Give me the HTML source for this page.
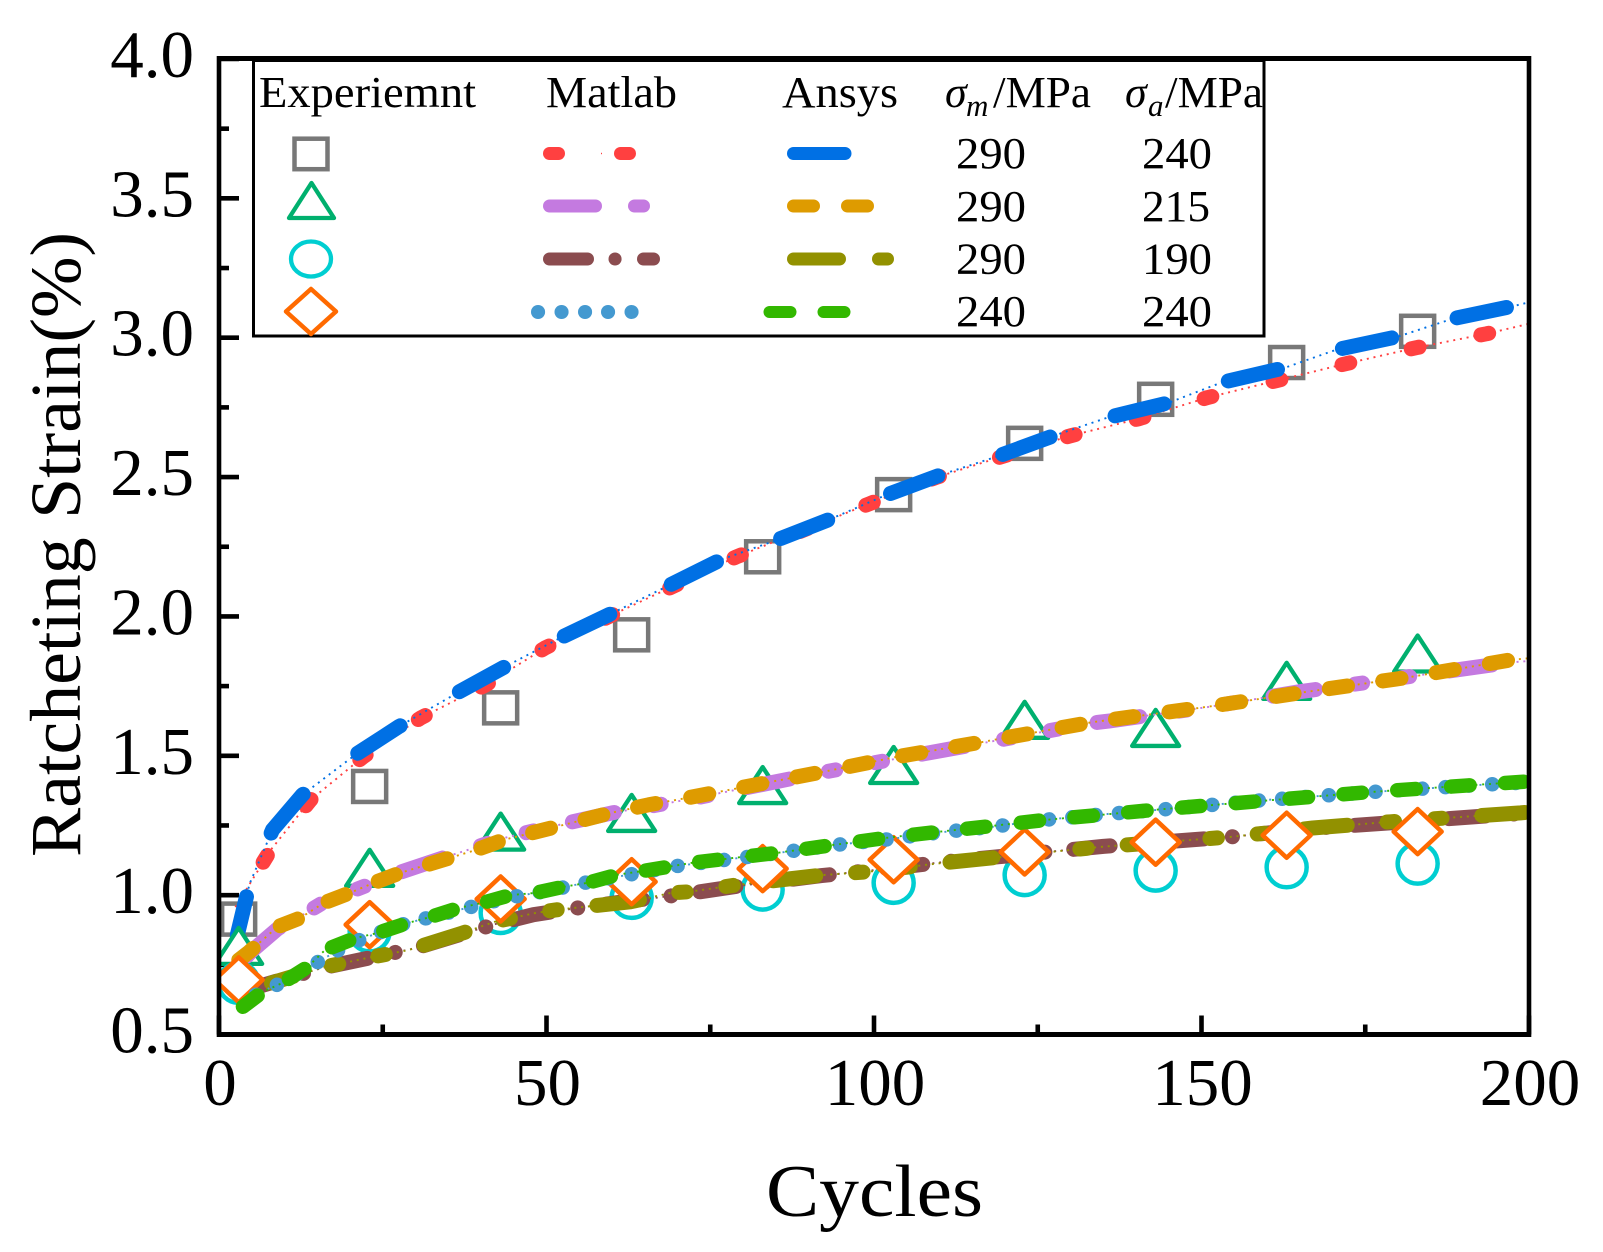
<!DOCTYPE html>
<html>
<head>
<meta charset="utf-8">
<title>Ratcheting Strain vs Cycles</title>
<style>
html,body{margin:0;padding:0;background:#fff;}
svg{display:block;}
text{font-family:"Liberation Serif",serif;fill:#000;}
</style>
</head>
<body>
<svg id="chart" xmlns="http://www.w3.org/2000/svg" width="1603" height="1252" viewBox="0 0 1603 1252">
  <defs>
    <clipPath id="plot-clip"><rect x="221" y="61" width="1306" height="971"/></clipPath>
  </defs>
  <rect x="0" y="0" width="1603" height="1252" fill="#fff"/>
  <g id="ticks"></g>
  <g id="ticklabels"></g>
  <g id="marks" clip-path="url(#plot-clip)"></g>
  <g id="frame">
    <line x1="219" y1="56" x2="219" y2="1037" stroke="#000" stroke-width="4.6"/>
    <line x1="1529" y1="56" x2="1529" y2="1037" stroke="#000" stroke-width="4.6"/>
    <line x1="217" y1="58.5" x2="1531" y2="58.5" stroke="#000" stroke-width="5"/>
    <line x1="217" y1="1034.5" x2="1531" y2="1034.5" stroke="#000" stroke-width="5"/>
  </g>
  <text transform="translate(80,857) rotate(-90)" font-size="72" textLength="625" lengthAdjust="spacingAndGlyphs">Ratcheting Strain(%)</text>
  <text x="766" y="1216" font-size="74" textLength="217" lengthAdjust="spacingAndGlyphs">Cycles</text>

  <g>
    <rect x="253.5" y="60.5" width="1010.5" height="275.5" fill="#fff" stroke="#000" stroke-width="3"/>
    <line x1="217" y1="58.5" x2="1531" y2="58.5" stroke="#000" stroke-width="5"/>
    <text x="259" y="107" font-size="44" textLength="217" lengthAdjust="spacingAndGlyphs">Experiemnt</text>
    <text x="546" y="107" font-size="44" textLength="131" lengthAdjust="spacingAndGlyphs">Matlab</text>
    <text x="782" y="107" font-size="44" textLength="116" lengthAdjust="spacingAndGlyphs">Ansys</text>
    <text x="945" y="107" font-size="44" font-style="italic">σ</text>
    <text x="966" y="116" font-size="31" font-style="italic">m</text>
    <text x="993" y="107" font-size="44" textLength="98" lengthAdjust="spacingAndGlyphs">/MPa</text>
    <text x="1125" y="107" font-size="44" font-style="italic">σ</text>
    <text x="1148" y="116" font-size="31" font-style="italic">a</text>
    <text x="1165" y="107" font-size="44" textLength="98" lengthAdjust="spacingAndGlyphs">/MPa</text>

    <rect x="294.5" y="138.7" width="33" height="30.5" fill="none" stroke="#787878" stroke-width="4.5"/>
    <polygon points="311.5,183 289,218 334,218" fill="none" stroke="#00b06e" stroke-width="4.3" stroke-linejoin="round"/>
    <ellipse cx="311" cy="259" rx="20" ry="17.5" fill="none" stroke="#00ced1" stroke-width="4.3"/>
    <polygon points="311,289 336,311.5 311,334 286,311.5" fill="none" stroke="#ff6a00" stroke-width="4.5" stroke-linejoin="round"/>

    <g stroke-linecap="round" stroke-width="13" fill="none">
      <g stroke="#ff4040">
        <line x1="549.5" y1="153.5" x2="558.5" y2="153.5"/>
        <line x1="620.5" y1="153.5" x2="629.5" y2="153.5"/>
        <rect x="601" y="152.8" width="1" height="1.4" stroke="none" fill="#ff4040"/>
      </g>
      <line x1="793.5" y1="153.5" x2="845" y2="153.5" stroke="#0070e4"/>
      <g stroke="#c47ae0">
        <line x1="549.5" y1="206" x2="595.5" y2="206"/>
        <line x1="634.5" y1="206" x2="643.5" y2="206"/>
      </g>
      <g stroke="#de9b00">
        <line x1="793.5" y1="206" x2="813.5" y2="206"/>
        <line x1="847.5" y1="206" x2="867.5" y2="206"/>
      </g>
      <g stroke="#8b4c4f">
        <line x1="549.5" y1="259" x2="587.5" y2="259"/>
        <line x1="615" y1="259" x2="615.1" y2="259"/>
        <line x1="643.5" y1="259" x2="653.5" y2="259"/>
      </g>
      <g stroke="#929100">
        <line x1="793.5" y1="259" x2="839.5" y2="259"/>
        <line x1="878.5" y1="259" x2="887.5" y2="259"/>
      </g>
      <g stroke="#4499d0" stroke-width="14">
        <line x1="538" y1="312" x2="538.1" y2="312"/>
        <line x1="561.5" y1="312" x2="561.6" y2="312"/>
        <line x1="585" y1="312" x2="585.1" y2="312"/>
        <line x1="608" y1="312" x2="608.1" y2="312"/>
        <line x1="631.5" y1="312" x2="631.6" y2="312"/>
      </g>
      <g stroke="#32b800" stroke-width="12">
        <line x1="769.5" y1="312" x2="790.5" y2="312"/>
        <line x1="823.5" y1="312" x2="844.5" y2="312"/>
      </g>
    </g>

    <text x="956" y="168" font-size="44" textLength="70" lengthAdjust="spacingAndGlyphs">290</text>
    <text x="956" y="221" font-size="44" textLength="70" lengthAdjust="spacingAndGlyphs">290</text>
    <text x="956" y="273.5" font-size="44" textLength="70" lengthAdjust="spacingAndGlyphs">290</text>
    <text x="956" y="326" font-size="44" textLength="70" lengthAdjust="spacingAndGlyphs">240</text>
    <text x="1142" y="168" font-size="44" textLength="70" lengthAdjust="spacingAndGlyphs">240</text>
    <text x="1142" y="221" font-size="44" textLength="68" lengthAdjust="spacingAndGlyphs">215</text>
    <text x="1142" y="273.5" font-size="44" textLength="70" lengthAdjust="spacingAndGlyphs">190</text>
    <text x="1142" y="326" font-size="44" textLength="70" lengthAdjust="spacingAndGlyphs">240</text>
  </g>
</svg>
<script>
// ---- axis data ----
var xMajorTicks = [0, 50, 100, 150, 200];
var xMinorTicks = [25, 75, 125, 175];
var yMajorTicks = [0.5, 1.0, 1.5, 2.0, 2.5, 3.0, 3.5, 4.0];
var yMinorTicks = [0.75, 1.25, 1.75, 2.25, 2.75, 3.25, 3.75];
var xTickLabels = ["0", "50", "100", "150", "200"];
var yTickLabels = ["0.5", "1.0", "1.5", "2.0", "2.5", "3.0", "3.5", "4.0"];

// ---- experiment markers ----
var markerCycles = [3, 23, 43, 63, 83, 103, 123, 143, 163, 183];
var squareStrain = [0.914, 1.39, 1.672, 1.934, 2.214, 2.437, 2.621, 2.779, 2.911, 3.023];
var triangleStrain = [0.818, 1.098, 1.228, 1.295, 1.395, 1.467, 1.629, 1.60, 1.769, 1.867];
var circleStrain = [0.685, 0.87, 0.936, 0.99, 1.02, 1.044, 1.072, 1.088, 1.10, 1.113];
var diamondStrain = [0.696, 0.894, 0.986, 1.048, 1.095, 1.127, 1.155, 1.19, 1.215, 1.228];

// ---- simulated curves ----
var ansys290x240Cycles = [2.8, 4.66, 8.17, 12.75, 20.8, 27.4, 36.4, 43.3, 52.1, 59.5, 68, 76.6, 84.8, 93.4, 101.6, 110.2, 118.7, 127.4, 135.6, 145, 153, 162.7, 170.6, 180, 188.3, 197.9, 200];
var ansys290x240Strain = [0.857, 1.04, 1.234, 1.36, 1.503, 1.604, 1.726, 1.815, 1.923, 2.006, 2.103, 2.203, 2.271, 2.35, 2.433, 2.508, 2.573, 2.648, 2.713, 2.767, 2.839, 2.892, 2.957, 3.004, 3.068, 3.115, 3.127];
var matlab290x240Cycles = [2.5, 7.9, 14, 22, 30.8, 40.7, 49.8, 60, 69.5, 79, 99.3, 109.4, 120.4, 130, 140.4, 150.9, 161.5, 172.1, 182.8, 193.5, 200];
var matlab290x240Strain = [0.957, 1.162, 1.342, 1.496, 1.636, 1.754, 1.887, 2.005, 2.11, 2.214, 2.404, 2.498, 2.58, 2.648, 2.709, 2.785, 2.846, 2.907, 2.964, 3.014, 3.05];

var ansys290x215Cycles = [3, 4.6, 8.9, 12.4, 16, 20, 23.6, 27.7, 35.3, 39.2, 43.4, 51.4, 59.8, 65.6, 71.5, 92.1, 103.4, 116.6, 132.6, 136, 151, 165, 182, 197.2, 200];
var ansys290x215Strain = [0.767, 0.796, 0.886, 0.918, 0.972, 1.008, 1.044, 1.08, 1.134, 1.162, 1.198, 1.245, 1.295, 1.324, 1.349, 1.442, 1.496, 1.55, 1.618, 1.629, 1.676, 1.726, 1.783, 1.844, 1.85];
var matlab290x215Cycles = [3, 5, 9, 12.5, 16, 20, 24, 28, 35, 39, 43.5, 51.5, 60, 66, 72, 92, 103.5, 116.5, 132.5, 136, 151, 165, 182, 197, 200];
var matlab290x215Strain = [0.75, 0.80, 0.88, 0.925, 0.975, 1.012, 1.048, 1.085, 1.14, 1.17, 1.205, 1.25, 1.295, 1.32, 1.345, 1.44, 1.49, 1.545, 1.615, 1.625, 1.675, 1.73, 1.785, 1.835, 1.84];

var ansys240x240Cycles = [3, 6.6, 9.7, 13.5, 16.2, 20.8, 24.2, 28.8, 32.3, 36.6, 40.2, 44.5, 48.3, 52.6, 56.2, 60.8, 65.6, 72.2, 85.3, 93.7, 101.7, 109.7, 118, 126.2, 134.6, 142.7, 159.3, 175.8, 192.1, 200];
var ansys240x240Strain = [0.588, 0.652, 0.685, 0.742, 0.803, 0.846, 0.864, 0.90, 0.922, 0.954, 0.972, 1.0, 1.008, 1.03, 1.044, 1.073, 1.09, 1.116, 1.152, 1.18, 1.205, 1.227, 1.248, 1.27, 1.288, 1.306, 1.338, 1.37, 1.396, 1.408];
var matlab240x240Cycles = [3, 6, 10, 14, 18, 22, 28, 33, 38, 44, 50, 57, 63, 70, 85, 94, 102, 110, 118, 126, 135, 143, 159, 176, 192, 200];
var matlab240x240Strain = [0.60, 0.649, 0.69, 0.745, 0.80, 0.845, 0.895, 0.925, 0.955, 0.99, 1.015, 1.05, 1.075, 1.105, 1.15, 1.18, 1.20, 1.225, 1.245, 1.27, 1.29, 1.305, 1.34, 1.37, 1.395, 1.405];

var ansys290x190Cycles = [8, 16, 23.4, 29, 37.2, 42, 48.3, 51.4, 62.8, 69, 71.7, 79.2, 92.1, 99.2, 110.6, 119.8, 134.6, 154.4, 167, 178.8, 198.7, 200];
var ansys290x190Strain = [0.685, 0.742, 0.778, 0.803, 0.864, 0.904, 0.936, 0.947, 0.976, 1.008, 1.012, 1.037, 1.072, 1.084, 1.116, 1.138, 1.173, 1.209, 1.241, 1.263, 1.295, 1.298];
var matlab290x190Cycles = [5, 10, 16, 23, 30, 37, 42, 48, 55, 63, 70, 80, 92, 100, 111, 120, 135, 155, 167, 179, 200];
var matlab290x190Strain = [0.665, 0.70, 0.74, 0.775, 0.81, 0.86, 0.895, 0.93, 0.955, 0.98, 1.0, 1.035, 1.07, 1.09, 1.12, 1.14, 1.175, 1.21, 1.24, 1.26, 1.295];

// ---- axis functions ----
var X0 = 219, X1 = 1529, Y05 = 1034.5, Y40 = 59;
function xScale(c) { return X0 + (c / 200) * (X1 - X0); }
function yScale(v) { return Y05 - ((v - 0.5) / 3.5) * (Y05 - Y40); }

var NS = 'http://www.w3.org/2000/svg';
var ticksG = document.getElementById('ticks');
var labelsG = document.getElementById('ticklabels');
var marksG = document.getElementById('marks');

xMajorTicks.forEach(function (t, i) {
  var el = document.createElementNS(NS, 'line');
  
  
  el.setAttribute('x1', xScale(t)); el.setAttribute('x2', xScale(t));
  el.setAttribute('y1', Y05); el.setAttribute('y2', Y05 - 19);
  el.setAttribute('stroke', '#000'); el.setAttribute('stroke-width', 4.6);
  ticksG.appendChild(el);
  var lb = document.createElementNS(NS, 'text');
  
  
  lb.setAttribute('x', xScale(t) + 1); lb.setAttribute('y', 1105);
  lb.setAttribute('font-size', 67); lb.setAttribute('text-anchor', 'middle');
  lb.textContent = xTickLabels[i];
  labelsG.appendChild(lb);
});
xMinorTicks.forEach(function (t) {
  var el = document.createElementNS(NS, 'line');
  
  
  el.setAttribute('x1', xScale(t)); el.setAttribute('x2', xScale(t));
  el.setAttribute('y1', Y05); el.setAttribute('y2', Y05 - 10);
  el.setAttribute('stroke', '#000'); el.setAttribute('stroke-width', 4.6);
  ticksG.appendChild(el);
});
yMajorTicks.forEach(function (t, i) {
  var el = document.createElementNS(NS, 'line');
  
  
  el.setAttribute('x1', X0); el.setAttribute('x2', X0 + 20);
  el.setAttribute('y1', yScale(t)); el.setAttribute('y2', yScale(t));
  el.setAttribute('stroke', '#000'); el.setAttribute('stroke-width', 4.6);
  ticksG.appendChild(el);
  var lb = document.createElementNS(NS, 'text');
  
  
  lb.setAttribute('x', 194); lb.setAttribute('y', yScale(t) + 18);
  lb.setAttribute('font-size', 67); lb.setAttribute('text-anchor', 'end');
  lb.textContent = yTickLabels[i];
  labelsG.appendChild(lb);
});
yMinorTicks.forEach(function (t) {
  var el = document.createElementNS(NS, 'line');
  
  
  el.setAttribute('x1', X0); el.setAttribute('x2', X0 + 10);
  el.setAttribute('y1', yScale(t)); el.setAttribute('y2', yScale(t));
  el.setAttribute('stroke', '#000'); el.setAttribute('stroke-width', 4.6);
  ticksG.appendChild(el);
});

// ---- drawing helpers ----
function lengthTo(pts, cycle) {
  var L = 0;
  for (var i = 1; i < pts.length; i++) {
    var dx = pts[i][0] - pts[i - 1][0], dy = pts[i][1] - pts[i - 1][1];
    var seg = Math.sqrt(dx * dx + dy * dy);
    var tx = xScale(cycle);
    if (tx >= pts[i][0]) { L += seg; }
    else { L += seg * (tx - pts[i - 1][0]) / dx; break; }
  }
  return L;
}
function drawCurve(name, cycles, strain, color, width, pattern, anchorCycle) {
  var pts = cycles.map(function (c, i) { return [xScale(c), yScale(strain[i])]; });
  var d = pts.map(function (p) { return p[0].toFixed(1) + ',' + p[1].toFixed(1); }).join(' ');
  var dots = document.createElementNS(NS, 'polyline');
  
  
  dots.setAttribute('points', d);
  dots.setAttribute('fill', 'none');
  dots.setAttribute('stroke', color);
  dots.setAttribute('stroke-width', 1.9);
  dots.setAttribute('stroke-dasharray', '2 4.8');
  marksG.appendChild(dots);
  var period = pattern.reduce(function (a, b) { return a + b; }, 0);
  var offset = period - (lengthTo(pts, anchorCycle) % period);
  var thick = document.createElementNS(NS, 'polyline');
  
  
  thick.setAttribute('points', d);
  thick.setAttribute('fill', 'none');
  thick.setAttribute('stroke', color);
  thick.setAttribute('stroke-width', width);
  thick.setAttribute('stroke-linecap', 'round');
  thick.setAttribute('stroke-linejoin', 'round');
  thick.setAttribute('stroke-dasharray', pattern.join(' '));
  thick.setAttribute('stroke-dashoffset', offset.toFixed(2));
  marksG.appendChild(thick);
}
function drawSquares() {
  markerCycles.forEach(function (c, i) {
    var el = document.createElementNS(NS, 'rect');
    
    
    el.setAttribute('x', xScale(c) - 16.5);
    el.setAttribute('y', yScale(squareStrain[i]) - 15.5);
    el.setAttribute('width', 33); el.setAttribute('height', 31);
    el.setAttribute('fill', 'none');
    el.setAttribute('stroke', '#787878'); el.setAttribute('stroke-width', 4.5);
    marksG.appendChild(el);
  });
}
function drawTriangles() {
  markerCycles.forEach(function (c, i) {
    var x = xScale(c), y = yScale(triangleStrain[i]);
    var el = document.createElementNS(NS, 'polygon');
    
    
    el.setAttribute('points', x + ',' + (y - 18) + ' ' + (x + 23.5) + ',' + (y + 18) + ' ' + (x - 23.5) + ',' + (y + 18));
    el.setAttribute('fill', '#fff');
    el.setAttribute('stroke', '#00b06e'); el.setAttribute('stroke-width', 4.3);
    el.setAttribute('stroke-linejoin', 'round');
    marksG.appendChild(el);
  });
}
function drawCircles() {
  markerCycles.forEach(function (c, i) {
    var el = document.createElementNS(NS, 'circle');
    
    
    el.setAttribute('cx', xScale(c)); el.setAttribute('cy', yScale(circleStrain[i]));
    el.setAttribute('r', 20);
    el.setAttribute('fill', 'none');
    el.setAttribute('stroke', '#00ced1'); el.setAttribute('stroke-width', 4.5);
    marksG.appendChild(el);
  });
}
function drawDiamonds() {
  markerCycles.forEach(function (c, i) {
    var x = xScale(c), y = yScale(diamondStrain[i]);
    var el = document.createElementNS(NS, 'polygon');
    
    
    el.setAttribute('points', x + ',' + (y - 22.5) + ' ' + (x + 24) + ',' + y + ' ' + x + ',' + (y + 22.5) + ' ' + (x - 24) + ',' + y);
    el.setAttribute('fill', '#fff');
    el.setAttribute('stroke', '#ff6a00'); el.setAttribute('stroke-width', 4.5);
    el.setAttribute('stroke-linejoin', 'round');
    marksG.appendChild(el);
  });
}

// ---- paint in reference stacking order ----
drawSquares();
drawCurve('matlab-290-240-line', matlab290x240Cycles, matlab290x240Strain, '#ff4040', 15, [8, 63], 150.4);
drawCurve('ansys-290-240-line', ansys290x240Cycles, ansys290x240Strain, '#0070e4', 15, [50.5, 68.3], 136.8);
drawTriangles();
drawCurve('matlab-290-215-line', matlab290x215Cycles, matlab290x215Strain, '#c47ae0', 15, [43, 40, 7.5, 40, 7.5, 40], 107.3);
drawCurve('ansys-290-215-line', ansys290x215Cycles, ansys290x215Strain, '#de9b00', 15, [18.5, 35.5], 72);
drawCircles();
drawCurve('matlab-290-190-line', matlab290x190Cycles, matlab290x190Strain, '#8b4c4f', 15, [36.5, 28.5, 0.1, 29], 31.2);
drawCurve('ansys-290-190-line', ansys290x190Cycles, ansys290x190Strain, '#929100', 15, [43, 40, 7.5, 40, 7.5, 40], 111.6);
drawDiamonds();
drawCurve('matlab-240-240-line', matlab240x240Cycles, matlab240x240Strain, '#4499d0', 14.5, [0.1, 23.3], 70);
drawCurve('ansys-240-240-line', ansys240x240Cycles, ansys240x240Strain, '#32b800', 14.5, [18.5, 35.5], 73.3);
</script>
</body>
</html>
